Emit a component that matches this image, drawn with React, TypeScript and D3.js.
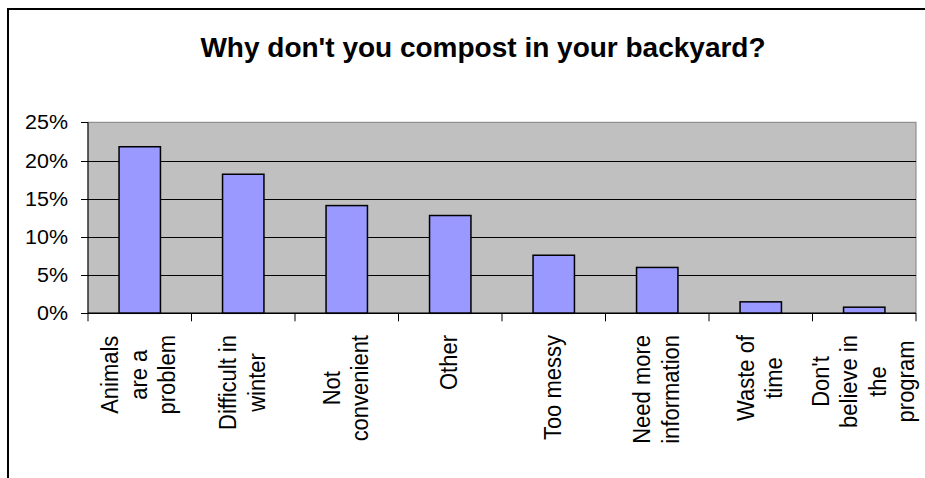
import React from "react";
import * as d3 from "d3";

const titleText = "Why don't you compost in your backyard?";
const categories = [
  "Animals are a problem",
  "Difficult in winter",
  "Not convenient",
  "Other",
  "Too messy",
  "Need more information",
  "Waste of time",
  "Don't believe in the program",
];
const categoryLines = [
  ["Animals", "are a", "problem"],
  ["Difficult in", "winter"],
  ["Not", "convenient"],
  ["Other"],
  ["Too messy"],
  ["Need more", "information"],
  ["Waste of", "time"],
  ["Don't", "believe in", "the", "program"],
];
const values = [0.218, 0.182, 0.141, 0.128, 0.076, 0.06, 0.015, 0.008];
const yTicks = [0, 0.05, 0.1, 0.15, 0.2, 0.25];

const FONT = "'Liberation Sans', Arial, Helvetica, sans-serif";

function measure(text: string, size: number): number {
  if (typeof document === "undefined") return text.length * size * 0.5;
  const c = document.createElement("canvas");
  const ctx = c.getContext("2d");
  if (!ctx) return text.length * size * 0.5;
  ctx.font = `${size}px ${FONT}`;
  return ctx.measureText(text).width;
}

export default function App() {
  const W = 925;
  const H = 478;
  const plot = { left: 88, right: 916, top: 122.3, bottom: 313.3 };

  const x = d3
    .scaleBand<string>()
    .domain(categories)
    .range([plot.left, plot.right])
    .paddingInner(0.6)
    .paddingOuter(0.3);
  const y = d3.scaleLinear().domain([0, 0.25]).range([plot.bottom, plot.top]);
  const step = x.step();
  const fmt = d3.format(".0%");

  const labelSize = 22;
  const stretch = 1.1;
  const lineGap = 28.5;
  const labelTop = 335;

  return (
    <svg
      width={W}
      height={H}
      style={{ position: "absolute", left: 0, top: 0, background: "#fff" }}
      fontFamily={FONT}
    >
      <rect x={0} y={0} width={W} height={H} fill="#fff" />
      {/* chart area border */}
      <rect x={8} y={9} width={980} height={520} fill="none" stroke="#000" strokeWidth={2} />

      {/* title */}
      <text x={483} y={57} textAnchor="middle" fontSize={28} fontWeight="bold" fill="#000">
        {titleText}
      </text>

      {/* plot area */}
      <rect
        x={plot.left}
        y={plot.top}
        width={plot.right - plot.left}
        height={plot.bottom - plot.top}
        fill="#c0c0c0"
        stroke="#808080"
        strokeWidth={1}
      />

      {/* gridlines */}
      {yTicks
        .filter((t) => t > 0 && t < 0.25)
        .map((t) => (
          <line
            key={"g" + t}
            x1={plot.left}
            x2={plot.right}
            y1={Math.round(y(t)) + 0.5}
            y2={Math.round(y(t)) + 0.5}
            stroke="#000"
            strokeWidth={1}
          />
        ))}

      {/* bars */}
      {categories.map((c, i) => (
        <rect
          key={"b" + c}
          x={x(c)!}
          y={y(values[i])}
          width={x.bandwidth()}
          height={plot.bottom - y(values[i])}
          fill="#9999ff"
          stroke="#000"
          strokeWidth={1.5}
        />
      ))}

      {/* y axis */}
      <line x1={plot.left} x2={plot.left} y1={plot.top} y2={plot.bottom} stroke="#000" strokeWidth={1} />
      {yTicks.map((t) => (
        <g key={"yt" + t}>
          <line
            x1={plot.left - 7}
            x2={plot.left}
            y1={Math.round(y(t)) + 0.5}
            y2={Math.round(y(t)) + 0.5}
            stroke="#000"
          />
          <g transform={`translate(68,${y(t)}) scale(${stretch},1)`}>
            <text x={0} y={0} dy="0.36em" textAnchor="end" fontSize={19.5} fill="#000">
              {fmt(t)}
            </text>
          </g>
        </g>
      ))}

      {/* x axis */}
      <line x1={plot.left} x2={plot.right} y1={plot.bottom} y2={plot.bottom} stroke="#000" strokeWidth={1.5} />
      {d3.range(categories.length + 1).map((i) => (
        <line
          key={"xt" + i}
          x1={plot.left + i * step}
          x2={plot.left + i * step}
          y1={plot.bottom}
          y2={plot.bottom + 8}
          stroke="#000"
        />
      ))}

      {/* category labels */}
      {categories.map((c, i) => {
        const lines = categoryLines[i];
        const cx = x(c)! + x.bandwidth() / 2;
        const longest = Math.max(...lines.map((l) => measure(l, labelSize)));
        const cy = labelTop + longest / 2;
        const n = lines.length;
        return (
          <g key={"cl" + c} transform={`translate(${cx},${cy}) scale(${stretch},1) rotate(-90)`}>
            {lines.map((l, j) => (
              <text
                key={j}
                x={0}
                y={((j - (n - 1) / 2) * lineGap + 7) / stretch}
                textAnchor="middle"
                fontSize={labelSize}
                fill="#000"
              >
                {l}
              </text>
            ))}
          </g>
        );
      })}
    </svg>
  );
}
